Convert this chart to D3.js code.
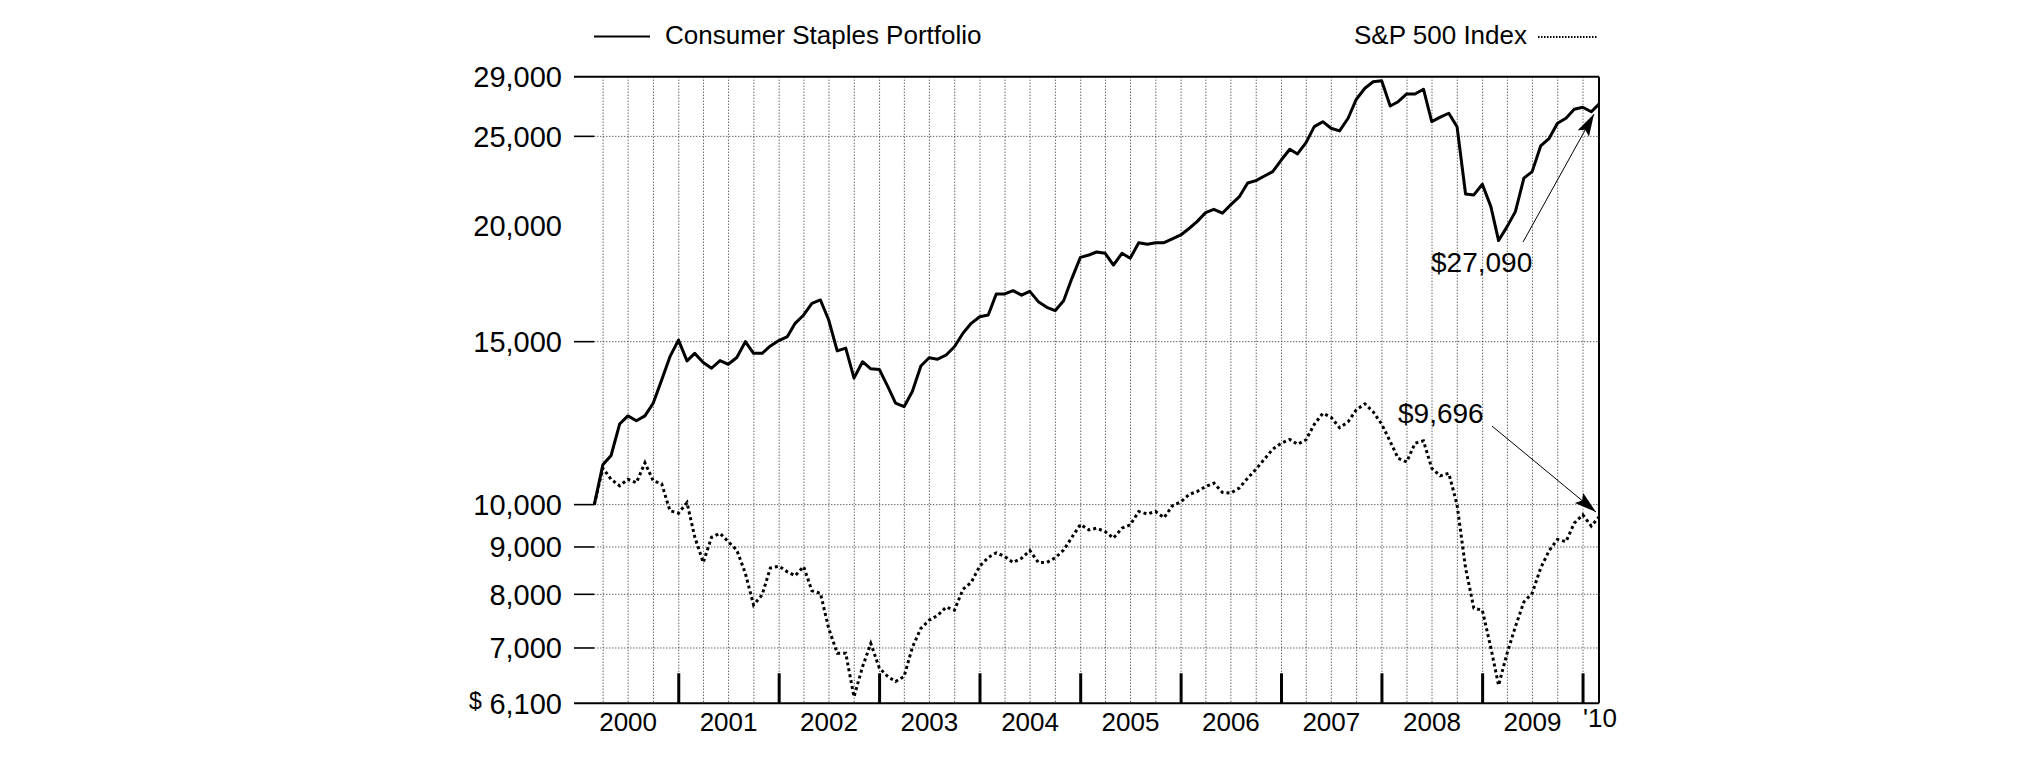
<!DOCTYPE html>
<html>
<head>
<meta charset="utf-8">
<script src="https://cdn.jsdelivr.net/npm/d3@7"></script>
<style>
  html, body { margin: 0; padding: 0; background: #fff; }
  svg { display: block; }
  text { font-family: "Liberation Sans", Arial, Helvetica, sans-serif; fill: #000; }
</style>
</head>
<body>
<svg id="chart" width="2025" height="761"></svg>
<script>
// ---------------- data ----------------
const seriesNames = ["Consumer Staples Portfolio", "S&P 500 Index"];
const startMonthEnd = [2000, 2]; // month-end of Feb 2000 (first point)
const portfolio = [
  10000, 11040, 11300, 12220, 12470, 12320, 12470, 12870, 13640, 14450,
  15060, 14300, 14570, 14240, 14040, 14310, 14180, 14420, 15000, 14570,
  14570, 14840, 15040, 15190, 15700, 16030, 16500, 16640, 15830, 14660,
  14760, 13700, 14270, 14020, 14000, 13410, 12870, 12760, 13250, 14120,
  14410, 14360, 14510, 14810, 15320, 15700, 15960, 16030, 16890, 16890,
  17030, 16840, 17000, 16570, 16340, 16200, 16610, 17560, 18500, 18610,
  18750, 18690, 18150, 18690, 18460, 19190, 19110, 19190, 19190, 19370,
  19560, 19890, 20220, 20680, 20850, 20650, 21080, 21500, 22260, 22390,
  22650, 22900, 23570, 24210, 23930, 24610, 25610, 25930, 25510, 25340,
  26150, 27420, 28180, 28640, 28710, 26960, 27250, 27780, 27780, 28110,
  25930, 26220, 26480, 25610, 21660, 21610, 22190, 20990, 19290, 19970,
  20730, 22530, 22900, 24410, 24880, 25830, 26150, 26740, 26880, 26580,
  27090
];
const sp500 = [
  10000, 10950, 10650, 10480, 10650, 10560, 11100, 10610, 10530, 9850,
  9790, 10050, 9230, 8660, 9220, 9310, 9120, 8930, 8430, 7790,
  7990, 8540, 8580, 8460, 8380, 8570, 8070, 8020, 7350, 6910,
  6910, 6200, 6680, 7080, 6660, 6520, 6440, 6520, 7010, 7350,
  7500, 7590, 7750, 7690, 8100, 8240, 8580, 8770, 8870, 8790,
  8660, 8750, 8920, 8660, 8660, 8760, 8930, 9220, 9520, 9390,
  9430, 9350, 9200, 9430, 9510, 9830, 9770, 9830, 9680, 9970,
  10070, 10260, 10330, 10460, 10550, 10310, 10290, 10420, 10680, 10920,
  11200, 11480, 11650, 11760, 11620, 11750, 12210, 12550, 12430, 12110,
  12290, 12660, 12850, 12600, 12220, 11700, 11220, 11120, 11650, 11720,
  10950, 10740, 10810, 10000, 8540, 7730, 7690, 7000, 6380, 6910,
  7380, 7850, 8020, 8540, 8920, 9170, 9120, 9550, 9750, 9480,
  9696
];
const yLabelValues = [29000, 25000, 20000, 15000, 10000, 9000, 8000, 7000, 6100];
const yGridValues = [25000, 15000, 10000, 9000, 8000, 7000];
const yearLabels = ["2000", "2001", "2002", "2003", "2004", "2005", "2006", "2007", "2008", "2009"];
const endYearLabel = "'10";
const endLabels = ["$27,090", "$9,696"];

// ---------------- layout ----------------
const svg = d3.select("#chart");
const plotL = 594.3, plotR = 1599, plotT = 76.7, plotB = 703.3, axisL = 574;

const dates = portfolio.map((_, i) => new Date(startMonthEnd[0], startMonthEnd[1] + i, 0));
const x = d3.scaleTime().domain([dates[0], dates[dates.length - 1]]).range([plotL, plotR]);
const y = d3.scaleLog().domain([6100, 29000]).range([plotB, plotT]);
const fmt = d3.format(",");

// vertical quarterly grid
const quarters = d3.timeMonth.every(3).range(new Date(2000, 3, 1), new Date(2010, 1, 2));
svg.append("g").selectAll("line").data(quarters).join("line")
  .attr("x1", d => x(d)).attr("x2", d => x(d))
  .attr("y1", plotT).attr("y2", plotB)
  .attr("stroke", "#222").attr("stroke-width", 1).attr("stroke-dasharray", "1,2");

// horizontal grid
svg.append("g").selectAll("line").data(yGridValues).join("line")
  .attr("x1", plotL).attr("x2", plotR)
  .attr("y1", d => y(d)).attr("y2", d => y(d))
  .attr("stroke", "#222").attr("stroke-width", 1).attr("stroke-dasharray", "1,2");

// left tick dashes
svg.append("g").selectAll("line").data(yGridValues).join("line")
  .attr("x1", axisL).attr("x2", plotL)
  .attr("y1", d => y(d)).attr("y2", d => y(d))
  .attr("stroke", "#000").attr("stroke-width", 1.6);

// frame: top, bottom, right
svg.append("line").attr("x1", axisL).attr("x2", plotR).attr("y1", y(29000)).attr("y2", y(29000))
  .attr("stroke", "#000").attr("stroke-width", 2);
svg.append("line").attr("x1", axisL).attr("x2", plotR).attr("y1", y(6100)).attr("y2", y(6100))
  .attr("stroke", "#000").attr("stroke-width", 2);
svg.append("line").attr("x1", plotR).attr("x2", plotR).attr("y1", plotT).attr("y2", plotB)
  .attr("stroke", "#000").attr("stroke-width", 2);

// y labels
svg.append("g").selectAll("text").data(yLabelValues).join("text")
  .attr("x", 562).attr("y", d => y(d) + 10.3)
  .attr("text-anchor", "end").attr("font-size", 29)
  .text(d => fmt(d));
svg.append("text").attr("x", 469).attr("y", y(6100) + 6)
  .attr("font-size", 23).text("$");

// year ticks
const yearTicks = d3.range(2001, 2011).map(yr => new Date(yr, 0, 1));
svg.append("g").selectAll("line").data(yearTicks).join("line")
  .attr("x1", d => x(d)).attr("x2", d => x(d))
  .attr("y1", plotB - 30).attr("y2", plotB)
  .attr("stroke", "#000").attr("stroke-width", 3);

// year labels
svg.append("g").selectAll("text").data(yearLabels).join("text")
  .attr("x", d => x(new Date(+d, 6, 1)))
  .attr("y", 731).attr("text-anchor", "middle").attr("font-size", 26)
  .text(d => d);
svg.append("text").attr("x", x(new Date(2010, 0, 1))).attr("y", 727)
  .attr("font-size", 26).text(endYearLabel);

// series lines
const line = d3.line().x((d, i) => x(dates[i])).y(d => y(d));
svg.append("path").datum(portfolio).attr("d", line)
  .attr("fill", "none").attr("stroke", "#000").attr("stroke-width", 3)
  .attr("stroke-linejoin", "round");
svg.append("path").datum(sp500).attr("d", line)
  .attr("fill", "none").attr("stroke", "#000").attr("stroke-width", 3)
  .attr("stroke-dasharray", "3,3");

// legend
svg.append("line").attr("x1", 594).attr("x2", 650).attr("y1", 36.5).attr("y2", 36.5)
  .attr("stroke", "#000").attr("stroke-width", 2);
svg.append("text").attr("x", 665).attr("y", 44).attr("font-size", 26).text(seriesNames[0]);
svg.append("text").attr("x", 1527).attr("y", 44).attr("text-anchor", "end")
  .attr("font-size", 26).text(seriesNames[1]);
svg.append("line").attr("x1", 1538).attr("x2", 1597).attr("y1", 37).attr("y2", 37)
  .attr("stroke", "#000").attr("stroke-width", 2).attr("stroke-dasharray", "1.5,1.5");

// annotations with arrows
function arrow(x0, y0, x1, y1) {
  svg.append("line").attr("x1", x0).attr("y1", y0).attr("x2", x1).attr("y2", y1)
    .attr("stroke", "#000").attr("stroke-width", 1);
  const len = 22, hw = 6.5;
  const dx = x1 - x0, dy = y1 - y0, L = Math.hypot(dx, dy);
  const ux = dx / L, uy = dy / L;
  const bx = x1 - ux * len, by = y1 - uy * len;
  const pts = [[x1, y1], [bx - uy * hw, by + ux * hw], [bx + ux * 4, by + uy * 4], [bx + uy * hw, by - ux * hw]];
  svg.append("path").attr("d", "M" + pts.map(p => p.join(",")).join("L") + "Z").attr("fill", "#000");
}
const lastDate = dates[dates.length - 1];
const pEnd = [x(lastDate), y(portfolio[portfolio.length - 1])];
const sEnd = [x(lastDate), y(sp500[sp500.length - 1])];

svg.append("text").attr("x", pEnd[0] - 168).attr("y", pEnd[1] + 168)
  .attr("font-size", 28).text(endLabels[0]);
arrow(pEnd[0] - 76, pEnd[1] + 138, pEnd[0] - 5, pEnd[1] + 10);

svg.append("text").attr("x", sEnd[0] - 201).attr("y", sEnd[1] - 94)
  .attr("font-size", 28).text(endLabels[1]);
arrow(sEnd[0] - 107, sEnd[1] - 91, sEnd[0] - 3, sEnd[1] - 5);
</script>
</body>
</html>
